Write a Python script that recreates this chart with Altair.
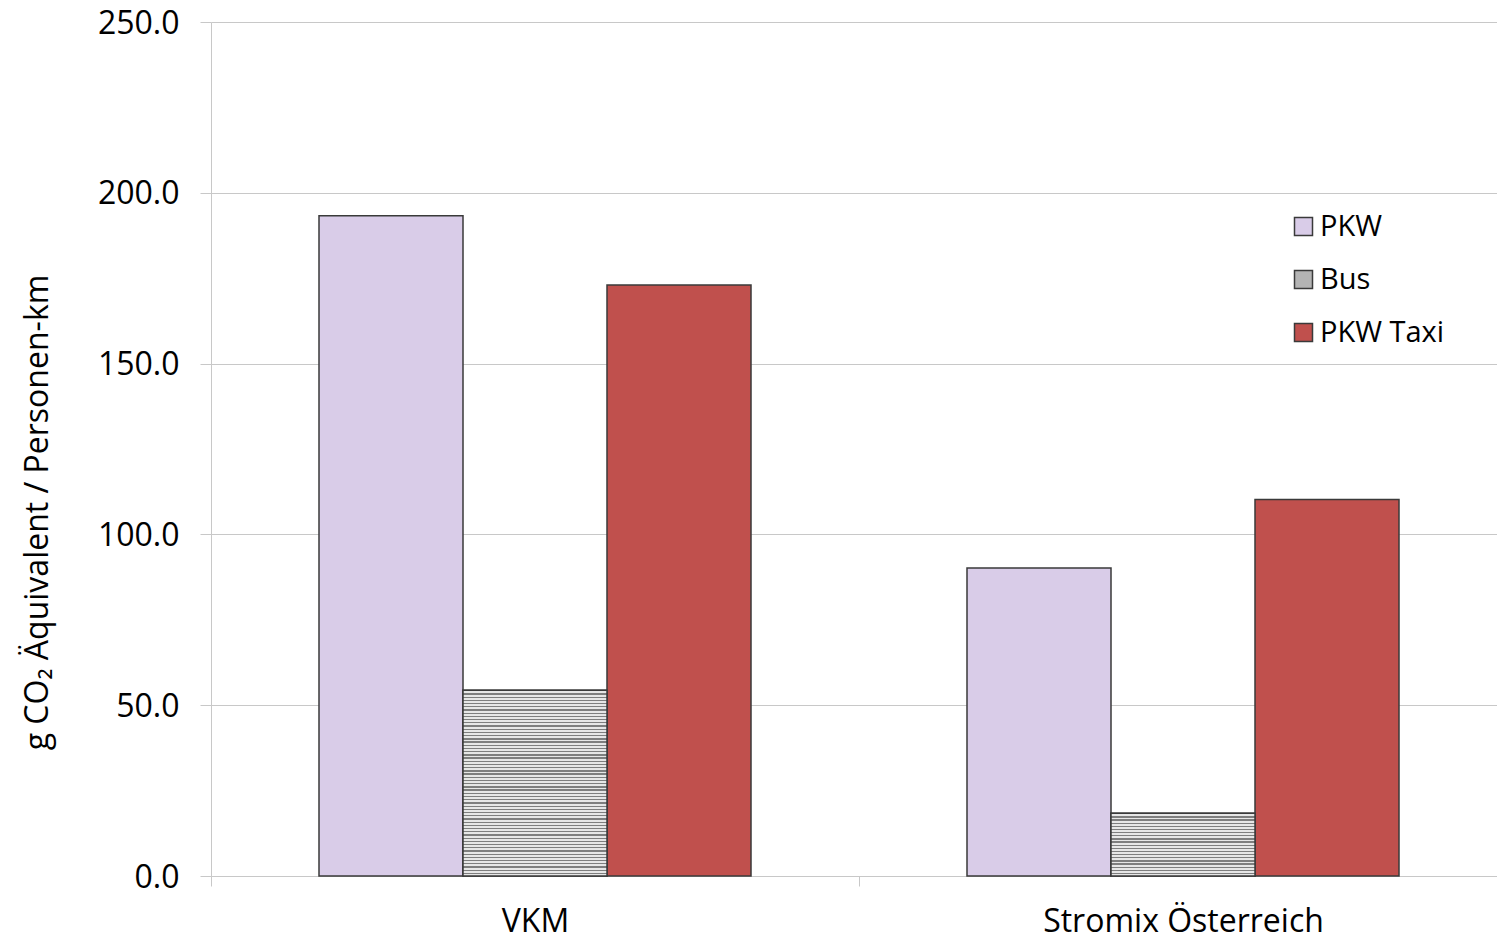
import altair as alt
import pandas as pd

# Emission values per person-km for each drive scenario and mode of transport
categories = ["VKM", "Stromix Österreich"]
modes = ["PKW", "Bus", "PKW Taxi"]
pkw = [193.3, 90.2]
bus = [54.4, 18.4]
taxi = [173.0, 110.2]

rows = []
for i, cat in enumerate(categories):
    rows.append({"category": cat, "mode": "PKW", "value": pkw[i]})
    rows.append({"category": cat, "mode": "Bus", "value": bus[i]})
    rows.append({"category": cat, "mode": "PKW Taxi", "value": taxi[i]})
df = pd.DataFrame(rows)

FONT = "Open Sans"
GRID = "#C8C8C8"
EDGE = "#3A3A3A"
TEXT = "#000000"
W, H = 1286, 854
BAND_RANGE = 1296  # category bands run slightly past the right edge
Y_MAX = 250

x_enc = alt.X(
    "category:N",
    sort=categories,
    scale=alt.Scale(paddingInner=0, paddingOuter=0, range=[0, BAND_RANGE]),
    axis=alt.Axis(
        title=None, labelAngle=0, labelFontSize=32, labelFont=FONT,
        labelColor=TEXT, labelPadding=20, labelLimit=0, tickBand="extent",
        tickSize=10, tickColor=GRID, domainColor=GRID, grid=False,
    ),
)
xoff_enc = alt.XOffset(
    "mode:N", sort=modes, scale=alt.Scale(paddingInner=0, paddingOuter=0.75)
)
y_enc = alt.Y(
    "value:Q",
    scale=alt.Scale(domain=[0, Y_MAX], nice=False),
    axis=alt.Axis(
        values=[0, 50, 100, 150, 200, 250], format=".1f",
        labelFontSize=32, labelFont=FONT, labelColor=TEXT,
        labelPadding=21, labelOffset=1, tickSize=11, tickColor=GRID,
        domainColor=GRID, gridColor=GRID,
        title="g CO₂ Äquivalent / Personen-km",
        titleFont=FONT, titleFontSize=32, titleFontWeight="normal",
        titleColor=TEXT, titleAngle=270, titleAlign="center",
        titleBaseline="middle", titleX=-174, titleY=490,
    ),
)

bars = alt.Chart(df).mark_bar(stroke=EDGE, strokeWidth=1.5).encode(
    x=x_enc,
    xOffset=xoff_enc,
    y=y_enc,
    color=alt.Color(
        "mode:N",
        sort=modes,
        scale=alt.Scale(domain=modes, range=["#D9CCE8", "#B4B4B4", "#C0504D"]),
        legend=alt.Legend(
            title=None, orient="none", legendX=1078, legendY=190,
            symbolType="square", symbolSize=324, symbolStrokeColor=EDGE,
            symbolStrokeWidth=1.5, labelFontSize=29, labelFont=FONT,
            labelColor=TEXT, rowPadding=23, labelOffset=2,
        ),
    ),
)


def stripe_gradient(value, period_px=3.2):
    """Horizontal hatching for a bus bar, with a fixed stripe pitch in pixels."""
    n = max(1, round(value * H / Y_MAX / period_px))
    stops = []
    for k in range(n):
        a = k / n
        b = (k + 0.4) / n
        c = (k + 1) / n
        stops += [
            alt.GradientStop(offset=a, color="#7E7E7E"),
            alt.GradientStop(offset=b, color="#7E7E7E"),
            alt.GradientStop(offset=b, color="#E6E6E6"),
            alt.GradientStop(offset=c, color="#E6E6E6"),
        ]
    return alt.Gradient(gradient="linear", stops=stops, x1=0, x2=0, y1=0, y2=1)


hatch_layers = []
for i, cat in enumerate(categories):
    hatch_layers.append(
        alt.Chart(df)
        .transform_filter(
            (alt.datum.mode == "Bus") & (alt.datum.category == cat)
        )
        .mark_bar(color=stripe_gradient(bus[i]), stroke=EDGE, strokeWidth=1.5)
        .encode(x=x_enc, xOffset=xoff_enc, y=y_enc)
    )

chart = (
    alt.layer(bars, *hatch_layers)
    .properties(
        width=W,
        height=H,
        autosize=alt.AutoSizeParams(type="none"),
        padding={"left": 211, "top": 22, "right": 0, "bottom": 64},
        background="white",
    )
    .configure_view(stroke=None)
)

chart.save("out.html", embed_options={"renderer": "svg", "actions": False})
